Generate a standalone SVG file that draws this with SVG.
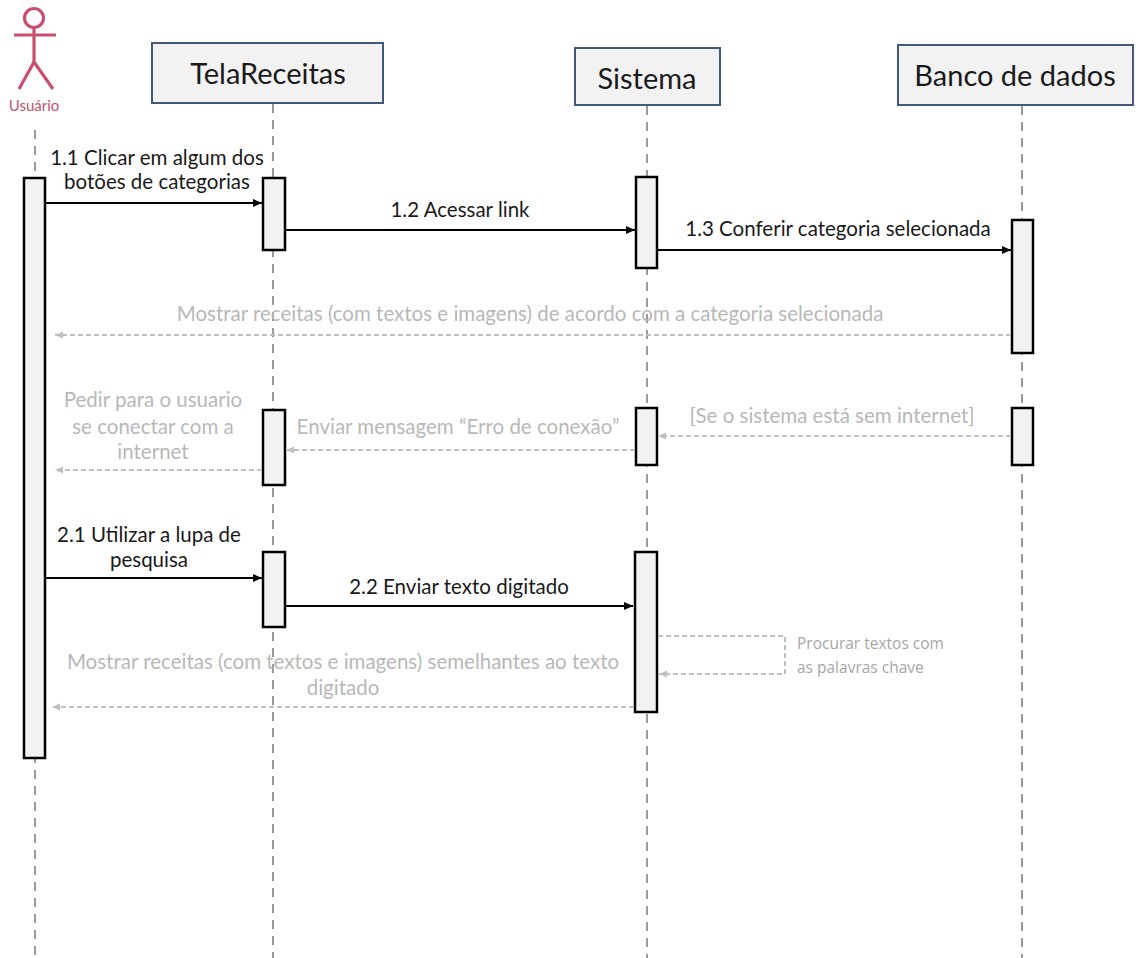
<svg xmlns="http://www.w3.org/2000/svg" width="1148" height="958" viewBox="0 0 1148 958">
<style>
.hdr{fill:#F2F2F2;stroke:#41587A;stroke-width:2}
.htxt{font-family:Lato,"Liberation Sans",sans-serif;font-size:29px;fill:#1a1a1a;text-anchor:middle}
.life{stroke:#808080;stroke-width:1.6;stroke-dasharray:9 7;fill:none}
.act{fill:#F2F2F2;stroke:#000;stroke-width:2.5}
.msg{stroke:#000;stroke-width:2;fill:none}
.ret{stroke:#BFBFBF;stroke-width:2;stroke-dasharray:5 3;fill:none}
.lbl{font-family:Lato,"Liberation Sans",sans-serif;font-size:20.5px;fill:#1a1a1a;text-anchor:middle}
.glbl{font-family:Lato,"Liberation Sans",sans-serif;font-size:20.5px;fill:#B8B8B8;text-anchor:middle}
.slbl{font-family:"Open Sans","Noto Sans",sans-serif;font-size:15.5px;fill:#A6A6A6}
</style>
<defs>
<marker id="ah" markerUnits="userSpaceOnUse" markerWidth="10" markerHeight="10" refX="9" refY="4" orient="auto">
<path d="M0,0 L9,4 L0,8 z" fill="#000"/>
</marker>
<marker id="gh" markerUnits="userSpaceOnUse" markerWidth="10" markerHeight="10" refX="8" refY="3.5" orient="auto">
<path d="M0,0 L8,3.5 L0,7 z" fill="#BFBFBF"/>
</marker>
</defs>

<g id="lifelines">
<line class="life" x1="35" y1="130" x2="35" y2="958"/>
<line class="life" x1="273" y1="104" x2="273" y2="958"/>
<line class="life" x1="647" y1="106" x2="647" y2="958"/>
<line class="life" x1="1022" y1="106" x2="1022" y2="958"/>
</g>

<g id="usuario">
<g stroke="#C8506E" stroke-width="3.2" fill="none">
<circle cx="34" cy="18" r="9.5"/>
<line x1="34" y1="27.5" x2="34" y2="62"/>
<line x1="14" y1="35" x2="56" y2="35"/>
<line x1="34" y1="62" x2="19" y2="89"/>
<line x1="34" y1="62" x2="53" y2="89"/>
</g>
<text x="34" y="111" font-family="Lato,'Liberation Sans',sans-serif" font-size="15" fill="#C8506E" text-anchor="middle">Usuário</text>
</g>

<g id="telareceitas">
<rect class="hdr" x="152" y="43" width="231" height="60"/>
<text class="htxt" x="268" y="84">TelaReceitas</text>
</g>
<g id="sistema">
<rect class="hdr" x="575" y="48" width="145" height="57"/>
<text class="htxt" x="647" y="89">Sistema</text>
</g>
<g id="banco">
<rect class="hdr" x="898" y="45" width="235" height="60"/>
<text class="htxt" x="1015" y="86">Banco de dados</text>
</g>

<g id="activations">
<rect class="act" x="24" y="178" width="21" height="580"/>
<rect class="act" x="263" y="178" width="22" height="72"/>
<rect class="act" x="636" y="177" width="21" height="91"/>
<rect class="act" x="1012" y="220" width="21" height="133"/>
<rect class="act" x="263" y="410" width="22" height="75"/>
<rect class="act" x="636" y="408" width="21" height="57"/>
<rect class="act" x="1012" y="408" width="21" height="57"/>
<rect class="act" x="263" y="552" width="22" height="75"/>
<rect class="act" x="635" y="552" width="22" height="160"/>
</g>

<g id="connectors">
<line class="msg" x1="46" y1="203" x2="262" y2="203" marker-end="url(#ah)"/>
<line class="msg" x1="286" y1="230" x2="635" y2="230" marker-end="url(#ah)"/>
<line class="msg" x1="658" y1="250" x2="1011" y2="250" marker-end="url(#ah)"/>
<line class="ret" x1="1011" y1="335" x2="55" y2="335" marker-end="url(#gh)"/>
<line class="ret" x1="1011" y1="436" x2="658" y2="436" marker-end="url(#gh)"/>
<line class="ret" x1="635" y1="450" x2="286" y2="450" marker-end="url(#gh)"/>
<line class="ret" x1="262" y1="470" x2="55" y2="470" marker-end="url(#gh)"/>
<line class="msg" x1="46" y1="578" x2="262" y2="578" marker-end="url(#ah)"/>
<line class="msg" x1="286" y1="606" x2="633" y2="606" marker-end="url(#ah)"/>
<polyline class="ret" points="658,636 785,636 785,674 659,674" marker-end="url(#gh)"/>
<line class="ret" x1="634" y1="707" x2="52" y2="707" marker-end="url(#gh)"/>
</g>

<g id="labels">
<text class="lbl" x="157" y="165">1.1 Clicar em algum dos</text>
<text class="lbl" x="157" y="189">botões de categorias</text>
<text class="lbl" x="460" y="217">1.2 Acessar link</text>
<text class="lbl" x="838" y="236">1.3 Conferir categoria selecionada</text>
<text class="glbl" x="530" y="321">Mostrar receitas (com textos e imagens) de acordo com a categoria selecionada</text>
<text class="glbl" x="832" y="423">[Se o sistema está sem internet]</text>
<text class="glbl" x="458" y="434">Enviar mensagem “Erro de conexão”</text>
<text class="glbl" x="153" y="407">Pedir para o usuario</text>
<text class="glbl" x="153" y="434">se conectar com a</text>
<text class="glbl" x="153" y="459">internet</text>
<text class="lbl" x="149" y="542">2.1 Utilizar a lupa de</text>
<text class="lbl" x="149" y="567">pesquisa</text>
<text class="lbl" x="459" y="594">2.2 Enviar texto digitado</text>
<text class="glbl" x="343" y="669">Mostrar receitas (com textos e imagens) semelhantes ao texto</text>
<text class="glbl" x="343" y="695">digitado</text>
<text class="slbl" x="797" y="649">Procurar  textos com</text>
<text class="slbl" x="797" y="673">as palavras chave</text>
</g>
</svg>
